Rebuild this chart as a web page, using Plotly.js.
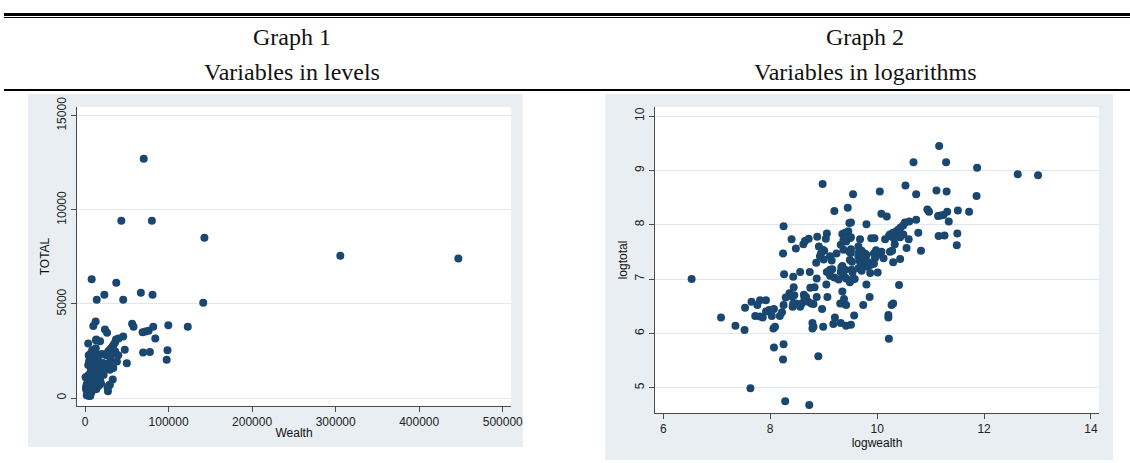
<!DOCTYPE html>
<html><head><meta charset="utf-8">
<script src="https://cdn.plot.ly/plotly-3.0.1.min.js"></script>
<style>html,body{margin:0;padding:0;background:#fff}#chart{width:1130px;height:463px}</style>
</head><body><div id="chart"></div>
<script>
const logwealth = [6.53,7.08,7.35,7.52,7.53,7.65,7.72,7.76,7.81,7.81,7.86,7.92,7.92,7.98,8.03,8.07,8.06,8.09,8.18,8.22,8.25,8.29,8.36,8.41,8.45,8.44,8.26,8.43,8.56,8.42,8.43,8.48,8.56,8.59,8.63,8.67,8.64,8.71,8.75,8.83,8.77,8.81,8.74,8.87,8.87,9.05,9.07,8.97,8.79,8.81,8.79,8.99,8.07,8.25,8.24,8.90,7.63,8.28,8.73,9.21,9.18,9.32,9.42,9.51,9.57,9.35,9.38,9.37,9.42,9.31,9.12,9.20,9.28,9.38,9.42,9.49,9.52,9.58,9.80,9.74,9.86,8.98,9.55,9.45,9.20,8.25,9.48,9.51,9.80,8.40,8.24,8.48,8.62,8.65,8.72,8.88,9.06,9.04,8.91,8.95,8.93,9.01,9.12,9.15,8.86,9.24,9.06,9.12,9.16,9.32,9.35,9.40,9.46,9.42,9.49,9.68,9.51,9.65,9.65,9.77,9.80,9.68,9.74,9.49,9.53,9.35,9.40,9.52,9.54,9.80,9.87,8.98,9.00,9.37,9.51,9.37,9.48,9.51,9.66,9.33,9.32,9.65,10.68,10.53,10.73,10.05,10.94,10.97,10.08,10.18,10.52,10.60,10.49,10.44,10.40,10.36,10.30,10.24,10.22,10.15,10.73,10.77,10.49,10.43,10.36,10.33,10.31,10.59,10.55,10.82,10.43,10.30,10.12,10.08,10.24,9.98,9.94,10.00,9.96,9.89,9.95,9.71,9.74,9.67,9.82,9.87,9.92,9.71,10.01,10.41,10.30,10.27,10.21,10.21,10.22,11.16,11.29,11.87,12.63,11.11,11.30,11.86,11.14,11.19,11.24,11.31,11.51,11.72,11.34,11.15,11.26,11.50,11.49,13.01,10.28,9.94];
const logtotal = [7.00,6.29,6.14,6.06,6.47,6.58,6.32,6.52,6.61,6.31,6.29,6.61,6.40,6.43,6.32,6.45,6.09,6.12,6.32,6.39,6.52,6.66,6.74,6.68,6.70,6.85,7.09,7.04,7.13,6.49,6.55,6.55,6.49,6.55,6.71,6.67,6.65,6.58,6.84,6.85,6.55,6.54,7.13,7.01,6.67,6.90,6.67,6.45,6.19,6.12,6.09,6.12,5.74,5.80,5.52,5.58,4.99,4.75,4.68,6.29,6.17,6.19,6.14,6.16,6.33,6.77,6.63,6.55,6.52,6.55,7.06,7.03,6.99,7.05,7.01,6.94,6.98,7.00,6.90,6.52,6.67,8.75,8.56,8.31,8.25,7.97,8.03,8.04,8.01,7.73,7.47,7.56,7.64,7.70,7.74,7.78,7.84,7.74,7.60,7.47,7.42,7.52,7.42,7.34,7.30,7.47,7.13,7.17,7.18,7.63,7.83,7.85,7.88,7.69,7.75,7.73,7.48,7.42,7.60,7.47,7.44,7.32,7.26,7.35,7.32,7.24,7.17,7.17,7.12,7.23,7.11,7.54,7.36,7.72,7.77,7.54,7.50,7.55,7.50,7.21,7.13,7.20,9.15,8.72,8.56,8.61,8.28,8.24,8.20,8.15,8.04,8.06,7.99,7.95,7.91,7.88,7.85,7.82,7.79,7.73,8.09,7.85,7.82,7.77,7.78,7.64,7.75,7.73,7.57,7.52,7.37,7.31,7.38,7.50,7.50,7.53,7.47,7.44,7.38,7.75,7.75,7.52,7.38,7.35,7.32,7.26,7.29,7.15,7.12,6.89,6.55,6.52,6.34,6.29,5.90,9.45,9.15,9.05,8.93,8.63,8.61,8.53,8.16,8.17,8.18,8.24,8.26,8.24,8.06,7.79,7.80,7.84,7.62,8.91,7.52,7.28];
const wealth = logwealth.map(Math.exp);
const total = logtotal.map(Math.exp);

const levelXTicks = [0,100000,200000,300000,400000,500000];
const levelYTicks = [0,5000,10000,15000];
const logXTicks = [6,8,10,12,14];
const logYTicks = [5,6,7,8,9,10];
const headers = [["Graph 1","Variables in levels"],["Graph 2","Variables in logarithms"]];

const W = 1130, H = 463;
const px = v => v / W, py = v => 1 - v / H;
const navy = '#1a476f', panel = '#e8eef1', grid = '#e0e9ed', axisC = '#4a4a4a';
const tickFont = {family:'Liberation Sans, Arial, sans-serif', size:12, color:'#222'};
const titleFont = {family:'Liberation Sans, Arial, sans-serif', size:12, color:'#111'};
const serif = {family:'Liberation Serif, Times New Roman, serif', size:24, color:'#111'};

function axisX(domain, range, ticks, title){
  return {domain, range, tickvals:ticks, ticktext:ticks.map(String), showgrid:false, zeroline:false,
    showline:true, linecolor:axisC, linewidth:1, ticks:'outside', ticklen:5, tickcolor:axisC, tickwidth:1,
    tickfont:tickFont, title:{text:title, font:titleFont, standoff:0}, automargin:false, fixedrange:true};
}
function axisY(domain, range, ticks, title){
  return {domain, range, tickvals:ticks, ticktext:ticks.map(String), tickangle:-90, showgrid:true, gridcolor:grid, gridwidth:1,
    zeroline:false, showline:true, linecolor:axisC, linewidth:1, ticks:'outside', ticklen:5, tickcolor:axisC, tickwidth:1,
    tickfont:tickFont, title:{text:title, font:titleFont, standoff:3}, automargin:false, fixedrange:true};
}

const traces = [
  {type:'scatter', mode:'markers', x:wealth, y:total, xaxis:'x', yaxis:'y',
   marker:{color:navy, size:8, line:{width:0}}, hoverinfo:'skip'},
  {type:'scatter', mode:'markers', x:logwealth, y:logtotal, xaxis:'x2', yaxis:'y2',
   marker:{color:navy, size:8, line:{width:0}}, hoverinfo:'skip'}
];

const shapes = [
  {type:'rect', xref:'paper', yref:'paper', x0:px(28), x1:px(523), y0:py(447), y1:py(94), fillcolor:panel, line:{width:0}, layer:'below'},
  {type:'rect', xref:'paper', yref:'paper', x0:px(605), x1:px(1113), y0:py(460), y1:py(94), fillcolor:panel, line:{width:0}, layer:'below'},
  {type:'rect', xref:'paper', yref:'paper', x0:px(77), x1:px(511), y0:py(406), y1:py(107), fillcolor:'#ffffff', line:{width:0}, layer:'below'},
  {type:'rect', xref:'paper', yref:'paper', x0:px(655), x1:px(1099), y0:py(413), y1:py(107), fillcolor:'#ffffff', line:{width:0}, layer:'below'},
  {type:'line', xref:'paper', yref:'paper', x0:px(4), x1:1, y0:py(14.5), y1:py(14.5), line:{color:'#000', width:3}},
  {type:'line', xref:'paper', yref:'paper', x0:px(4), x1:1, y0:py(17.5), y1:py(17.5), line:{color:'#000', width:1}},
  {type:'line', xref:'paper', yref:'paper', x0:px(4), x1:1, y0:py(90), y1:py(90), line:{color:'#000', width:2}}
];

const centers = [292, 865];
const annotations = [];
headers.forEach((h, i) => {
  annotations.push({xref:'paper', yref:'paper', x:px(centers[i]), y:py(37), text:h[0], showarrow:false, font:serif, xanchor:'center', yanchor:'middle'});
  annotations.push({xref:'paper', yref:'paper', x:px(centers[i]), y:py(72), text:h[1], showarrow:false, font:serif, xanchor:'center', yanchor:'middle'});
});

const layout = {
  width:W, height:H, margin:{l:0, r:0, t:0, b:0}, paper_bgcolor:'#ffffff', plot_bgcolor:'rgba(0,0,0,0)',
  showlegend:false, hovermode:false,
  xaxis: axisX([px(77), px(511)], [-9600, 509900], levelXTicks, 'Wealth'),
  yaxis: axisY([py(406), py(107)], [-425, 15460], levelYTicks, 'TOTAL'),
  xaxis2: Object.assign(axisX([px(655), px(1099)], [5.845, 14.15], logXTicks, 'logwealth'), {anchor:'y2'}),
  yaxis2: Object.assign(axisY([py(413), py(107)], [4.534, 10.166], logYTicks, 'logtotal'), {anchor:'x2'}),
  shapes, annotations
};
layout.xaxis.anchor = 'y'; layout.yaxis.anchor = 'x';

Plotly.newPlot('chart', traces, layout, {staticPlot:true, displayModeBar:false});
</script></body></html>
